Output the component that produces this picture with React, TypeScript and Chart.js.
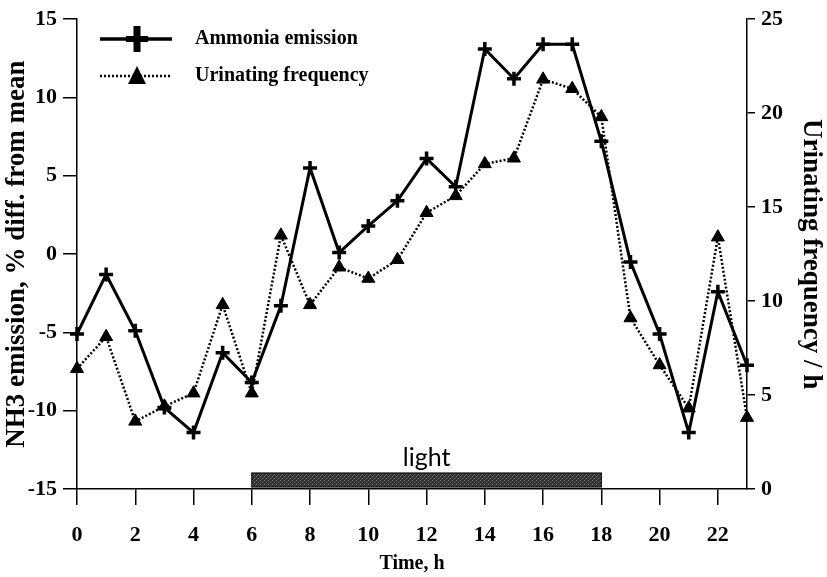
import React, { useEffect, useRef } from 'react';
import { Chart, registerables } from 'chart.js';

Chart.register(...registerables);

// ---- data ----
const HOURS = [0, 1, 2, 3, 4, 5, 6, 7, 8, 9, 10, 11, 12, 13, 14, 15, 16, 17, 18, 19, 20, 21, 22, 23];
const AMMONIA = [-5.1, -1.3, -4.9, -9.8, -11.4, -6.3, -8.2, -3.3, 5.5, 0.1, 1.8, 3.4, 6.1, 4.3, 13.1, 11.2, 13.4, 13.4, 7.2, -0.5, -5.1, -11.4, -2.4, -7.1];
const URINATING = [6.4, 8.1, 3.6, 4.4, 5.1, 9.8, 5.1, 13.5, 9.8, 11.8, 11.2, 12.2, 14.7, 15.6, 17.3, 17.6, 21.8, 21.3, 19.8, 9.1, 6.6, 4.3, 13.4, 3.8];
const X_TICKS = [0, 2, 4, 6, 8, 10, 12, 14, 16, 18, 20, 22];
const LEFT_TICKS = [-15, -10, -5, 0, 5, 10, 15];
const RIGHT_TICKS = [0, 5, 10, 15, 20, 25];
const SERIES_NAMES = ['Ammonia emission', 'Urinating frequency'];
const LIGHT_START = 6;
const LIGHT_END = 18;
const LIGHT_LABEL = 'light';
const X_TITLE = 'Time, h';
const LEFT_TITLE = 'NH3 emission, % diff. from mean';
const RIGHT_TITLE = 'Urinating frequency / h';

const SERIF = '"Liberation Serif", "Times New Roman", serif';

function makePattern(ctx: CanvasRenderingContext2D) {
  const pc = document.createElement('canvas');
  pc.width = 4;
  pc.height = 4;
  const p = pc.getContext('2d')!;
  p.fillStyle = '#303030';
  p.fillRect(0, 0, 4, 4);
  p.fillStyle = '#7a7a7a';
  p.fillRect(0, 0, 1, 1);
  p.fillRect(2, 2, 1, 1);
  p.fillStyle = '#4a4a4a';
  p.fillRect(3, 1, 1, 1);
  p.fillRect(1, 3, 1, 1);
  return ctx.createPattern(pc, 'repeat');
}

const lightBarPlugin = {
  id: 'lightBar',
  afterDatasetsDraw(chart: any) {
    const { ctx, chartArea, scales } = chart;
    const x0 = scales.x.getPixelForValue(LIGHT_START);
    const x1 = scales.x.getPixelForValue(LIGHT_END);
    const h = 14;
    const yTop = chartArea.bottom - 2 - h;
    ctx.save();
    ctx.fillStyle = makePattern(ctx) || '#444';
    ctx.fillRect(x0, yTop, x1 - x0, h);
    ctx.strokeStyle = '#111';
    ctx.lineWidth = 1.2;
    ctx.strokeRect(x0, yTop, x1 - x0, h);
    ctx.fillStyle = '#000';
    ctx.font = '25px Lato, "DejaVu Sans", sans-serif';
    ctx.textAlign = 'center';
    ctx.textBaseline = 'alphabetic';
    ctx.fillText(LIGHT_LABEL, (x0 + x1) / 2, yTop - 7);
    ctx.restore();
  },
};

const legendPlugin = {
  id: 'customLegend',
  afterDraw(chart: any) {
    const { ctx } = chart;
    const rows = [39, 76];
    const lx0 = 100;
    const lx1 = 172;
    const mx = 137;
    const tx = 195;
    ctx.save();
    ctx.strokeStyle = '#000';
    ctx.fillStyle = '#000';
    ctx.lineWidth = 3.5;
    ctx.setLineDash([]);
    ctx.beginPath();
    ctx.moveTo(lx0, rows[0]);
    ctx.lineTo(lx1, rows[0]);
    ctx.stroke();
    ctx.fillRect(mx - 11, rows[0] - 3, 22, 6);
    ctx.fillRect(mx - 3.5, rows[0] - 13, 7, 26);
    ctx.lineWidth = 2.5;
    ctx.setLineDash([2, 2]);
    ctx.beginPath();
    ctx.moveTo(lx0, rows[1]);
    ctx.lineTo(lx1, rows[1]);
    ctx.stroke();
    ctx.setLineDash([]);
    ctx.beginPath();
    ctx.moveTo(mx, rows[1] - 10);
    ctx.lineTo(mx + 9, rows[1] + 8);
    ctx.lineTo(mx - 9, rows[1] + 8);
    ctx.closePath();
    ctx.fill();
    ctx.font = 'bold 20px ' + SERIF;
    ctx.textAlign = 'left';
    ctx.textBaseline = 'middle';
    ctx.fillText(SERIES_NAMES[0], tx, rows[0]);
    ctx.fillText(SERIES_NAMES[1], tx, rows[1]);
    ctx.restore();
  },
};

export default function App() {
  const canvasRef = useRef<HTMLCanvasElement | null>(null);

  useEffect(() => {
    const canvas = canvasRef.current;
    if (!canvas) return;

    const tickFont = { family: SERIF, size: 22, weight: 'bold' as const };
    const titleFont = { family: SERIF, size: 27, weight: 'bold' as const };

    const chart = new Chart(canvas, {
      type: 'line',
      data: {
        datasets: [
          {
            label: SERIES_NAMES[0],
            data: HOURS.map((h, i) => ({ x: h, y: AMMONIA[i] })),
            yAxisID: 'y',
            borderColor: '#000',
            backgroundColor: '#000',
            borderWidth: 3,
            pointStyle: 'cross',
            pointRadius: 7,
            pointBorderWidth: 3.5,
            pointBorderColor: '#000',
            tension: 0,
            clip: false as any,
          },
          {
            label: SERIES_NAMES[1],
            data: HOURS.map((h, i) => ({ x: h, y: URINATING[i] })),
            yAxisID: 'y1',
            borderColor: '#000',
            backgroundColor: '#000',
            borderWidth: 2.5,
            borderDash: [2, 2],
            pointStyle: 'triangle',
            pointRadius: 7.5,
            pointBorderWidth: 1,
            pointBackgroundColor: '#000',
            pointBorderColor: '#000',
            tension: 0,
            clip: false as any,
          },
        ],
      },
      options: {
        animation: false,
        responsive: false,
        devicePixelRatio: 1,
        layout: { padding: { top: 17, left: 0, right: 0, bottom: 0 } },
        plugins: {
          legend: { display: false },
          tooltip: { enabled: false },
        },
        scales: {
          x: {
            type: 'linear',
            position: 'bottom',
            min: 0,
            max: 23,
            afterBuildTicks: (s: any) => {
              s.ticks = X_TICKS.map((v) => ({ value: v }));
            },
            afterFit: (s: any) => {
              s.height = 88;
            },
            grid: { drawOnChartArea: false, drawTicks: true, tickLength: 16, color: '#000', lineWidth: 1.5 },
            border: { display: true, color: '#000', width: 1.5 },
            ticks: { color: '#000', font: tickFont, padding: 17, maxRotation: 0, autoSkip: false },
            title: { display: true, text: X_TITLE, color: '#000', font: { family: SERIF, size: 20, weight: 'bold' }, padding: { top: 0, bottom: 1 } },
          },
          y: {
            type: 'linear',
            position: 'left',
            min: -15,
            max: 15,
            afterBuildTicks: (s: any) => {
              s.ticks = LEFT_TICKS.map((v) => ({ value: v }));
            },
            afterFit: (s: any) => {
              s.width = 77;
            },
            grid: { drawOnChartArea: false, drawTicks: true, tickLength: 14, color: '#000', lineWidth: 1.5 },
            border: { display: true, color: '#000', width: 1.5 },
            ticks: { color: '#000', font: tickFont, padding: 6 },
            title: { display: true, text: LEFT_TITLE, color: '#000', font: titleFont, padding: { top: 1, bottom: 0 } },
          },
          y1: {
            type: 'linear',
            position: 'right',
            min: 0,
            max: 25,
            afterBuildTicks: (s: any) => {
              s.ticks = RIGHT_TICKS.map((v) => ({ value: v }));
            },
            afterFit: (s: any) => {
              s.width = 80;
            },
            grid: { drawOnChartArea: false, drawTicks: true, tickLength: 8, color: '#000', lineWidth: 1.5 },
            border: { display: true, color: '#000', width: 1.5 },
            ticks: { color: '#000', font: tickFont, padding: 6 },
            title: { display: true, text: RIGHT_TITLE, color: '#000', font: titleFont, padding: { top: 0, bottom: 0 } },
          },
        },
      },
      plugins: [lightBarPlugin, legendPlugin],
    });

    return () => {
      chart.destroy();
    };
  }, []);

  return (
    <div style={{ position: 'absolute', left: 0, top: 0, width: 827, height: 577, background: '#fff' }}>
      <canvas ref={canvasRef} width={827} height={577} />
    </div>
  );
}
